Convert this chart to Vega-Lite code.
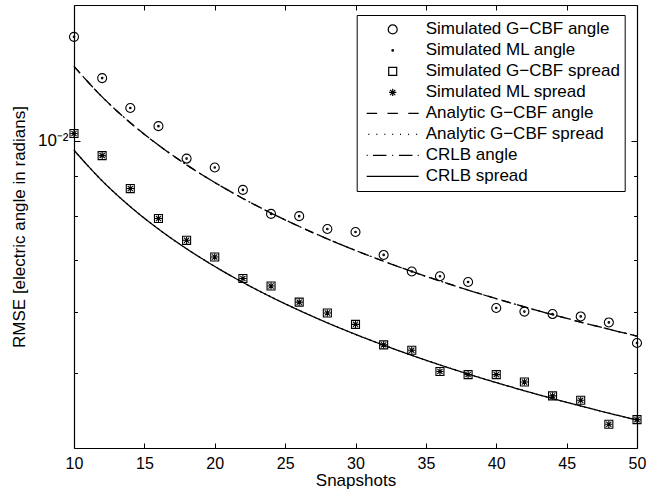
{
  "$schema": "https://vega.github.io/schema/vega-lite/v6.json",
  "width": 563,
  "height": 443,
  "autosize": "none",
  "padding": {"left": 74, "top": 5, "right": 9, "bottom": 50},
  "background": "white",
  "config": {
    "view": {"stroke": null},
    "font": "Liberation Sans",
    "axis": {
      "grid": false,
      "domainColor": "black",
      "domainWidth": 1.2,
      "tickColor": "black",
      "tickWidth": 1,
      "labelColor": "black",
      "labelFont": "Liberation Sans",
      "labelFontSize": 16,
      "labelFlush": false,
      "titleFont": "Liberation Sans",
      "titleFontSize": 17,
      "titleFontWeight": "normal",
      "titleColor": "black"
    }
  },
  "datasets": {
    "points": [
      {"n": 10, "series": "Simulated G−CBF angle", "rmse": 0.01364},
      {"n": 12, "series": "Simulated G−CBF angle", "rmse": 0.01206},
      {"n": 14, "series": "Simulated G−CBF angle", "rmse": 0.01103},
      {"n": 16, "series": "Simulated G−CBF angle", "rmse": 0.01045},
      {"n": 18, "series": "Simulated G−CBF angle", "rmse": 0.009486},
      {"n": 20, "series": "Simulated G−CBF angle", "rmse": 0.009236},
      {"n": 22, "series": "Simulated G−CBF angle", "rmse": 0.00864},
      {"n": 24, "series": "Simulated G−CBF angle", "rmse": 0.008043},
      {"n": 26, "series": "Simulated G−CBF angle", "rmse": 0.007989},
      {"n": 28, "series": "Simulated G−CBF angle", "rmse": 0.007689},
      {"n": 30, "series": "Simulated G−CBF angle", "rmse": 0.00762},
      {"n": 32, "series": "Simulated G−CBF angle", "rmse": 0.007116},
      {"n": 34, "series": "Simulated G−CBF angle", "rmse": 0.006772},
      {"n": 36, "series": "Simulated G−CBF angle", "rmse": 0.006677},
      {"n": 38, "series": "Simulated G−CBF angle", "rmse": 0.006564},
      {"n": 40, "series": "Simulated G−CBF angle", "rmse": 0.006074},
      {"n": 42, "series": "Simulated G−CBF angle", "rmse": 0.006009},
      {"n": 44, "series": "Simulated G−CBF angle", "rmse": 0.005965},
      {"n": 46, "series": "Simulated G−CBF angle", "rmse": 0.005923},
      {"n": 48, "series": "Simulated G−CBF angle", "rmse": 0.005818},
      {"n": 50, "series": "Simulated G−CBF angle", "rmse": 0.005471},
      {"n": 10, "series": "Simulated ML angle", "rmse": 0.01364},
      {"n": 12, "series": "Simulated ML angle", "rmse": 0.01206},
      {"n": 14, "series": "Simulated ML angle", "rmse": 0.01103},
      {"n": 16, "series": "Simulated ML angle", "rmse": 0.01045},
      {"n": 18, "series": "Simulated ML angle", "rmse": 0.009486},
      {"n": 20, "series": "Simulated ML angle", "rmse": 0.009236},
      {"n": 22, "series": "Simulated ML angle", "rmse": 0.00864},
      {"n": 24, "series": "Simulated ML angle", "rmse": 0.008043},
      {"n": 26, "series": "Simulated ML angle", "rmse": 0.007989},
      {"n": 28, "series": "Simulated ML angle", "rmse": 0.007689},
      {"n": 30, "series": "Simulated ML angle", "rmse": 0.00762},
      {"n": 32, "series": "Simulated ML angle", "rmse": 0.007116},
      {"n": 34, "series": "Simulated ML angle", "rmse": 0.006772},
      {"n": 36, "series": "Simulated ML angle", "rmse": 0.006677},
      {"n": 38, "series": "Simulated ML angle", "rmse": 0.006564},
      {"n": 40, "series": "Simulated ML angle", "rmse": 0.006074},
      {"n": 42, "series": "Simulated ML angle", "rmse": 0.006009},
      {"n": 44, "series": "Simulated ML angle", "rmse": 0.005965},
      {"n": 46, "series": "Simulated ML angle", "rmse": 0.005923},
      {"n": 48, "series": "Simulated ML angle", "rmse": 0.005818},
      {"n": 50, "series": "Simulated ML angle", "rmse": 0.005471},
      {"n": 10, "series": "Simulated G−CBF spread", "rmse": 0.010224},
      {"n": 12, "series": "Simulated G−CBF spread", "rmse": 0.009571},
      {"n": 14, "series": "Simulated G−CBF spread", "rmse": 0.008674},
      {"n": 16, "series": "Simulated G−CBF spread", "rmse": 0.007933},
      {"n": 18, "series": "Simulated G−CBF spread", "rmse": 0.007433},
      {"n": 20, "series": "Simulated G−CBF spread", "rmse": 0.007073},
      {"n": 22, "series": "Simulated G−CBF spread", "rmse": 0.006632},
      {"n": 24, "series": "Simulated G−CBF spread", "rmse": 0.006487},
      {"n": 26, "series": "Simulated G−CBF spread", "rmse": 0.006181},
      {"n": 28, "series": "Simulated G−CBF spread", "rmse": 0.005983},
      {"n": 30, "series": "Simulated G−CBF spread", "rmse": 0.005785},
      {"n": 32, "series": "Simulated G−CBF spread", "rmse": 0.005441},
      {"n": 34, "series": "Simulated G−CBF spread", "rmse": 0.005355},
      {"n": 36, "series": "Simulated G−CBF spread", "rmse": 0.005025},
      {"n": 38, "series": "Simulated G−CBF spread", "rmse": 0.004979},
      {"n": 40, "series": "Simulated G−CBF spread", "rmse": 0.004979},
      {"n": 42, "series": "Simulated G−CBF spread", "rmse": 0.004871},
      {"n": 44, "series": "Simulated G−CBF spread", "rmse": 0.004673},
      {"n": 46, "series": "Simulated G−CBF spread", "rmse": 0.004613},
      {"n": 48, "series": "Simulated G−CBF spread", "rmse": 0.004293},
      {"n": 50, "series": "Simulated G−CBF spread", "rmse": 0.004353},
      {"n": 10, "series": "Simulated ML spread", "rmse": 0.010224},
      {"n": 12, "series": "Simulated ML spread", "rmse": 0.009571},
      {"n": 14, "series": "Simulated ML spread", "rmse": 0.008674},
      {"n": 16, "series": "Simulated ML spread", "rmse": 0.007933},
      {"n": 18, "series": "Simulated ML spread", "rmse": 0.007433},
      {"n": 20, "series": "Simulated ML spread", "rmse": 0.007073},
      {"n": 22, "series": "Simulated ML spread", "rmse": 0.006632},
      {"n": 24, "series": "Simulated ML spread", "rmse": 0.006487},
      {"n": 26, "series": "Simulated ML spread", "rmse": 0.006181},
      {"n": 28, "series": "Simulated ML spread", "rmse": 0.005983},
      {"n": 30, "series": "Simulated ML spread", "rmse": 0.005785},
      {"n": 32, "series": "Simulated ML spread", "rmse": 0.005441},
      {"n": 34, "series": "Simulated ML spread", "rmse": 0.005355},
      {"n": 36, "series": "Simulated ML spread", "rmse": 0.005025},
      {"n": 38, "series": "Simulated ML spread", "rmse": 0.004979},
      {"n": 40, "series": "Simulated ML spread", "rmse": 0.004979},
      {"n": 42, "series": "Simulated ML spread", "rmse": 0.004871},
      {"n": 44, "series": "Simulated ML spread", "rmse": 0.004673},
      {"n": 46, "series": "Simulated ML spread", "rmse": 0.004613},
      {"n": 48, "series": "Simulated ML spread", "rmse": 0.004293},
      {"n": 50, "series": "Simulated ML spread", "rmse": 0.004353}
    ],
    "curves": [
      {"n": 10, "series": "Analytic G−CBF angle", "rmse": 0.012491},
      {"n": 12, "series": "Analytic G−CBF angle", "rmse": 0.011403},
      {"n": 14, "series": "Analytic G−CBF angle", "rmse": 0.010557},
      {"n": 16, "series": "Analytic G−CBF angle", "rmse": 0.009875},
      {"n": 18, "series": "Analytic G−CBF angle", "rmse": 0.00931},
      {"n": 20, "series": "Analytic G−CBF angle", "rmse": 0.008833},
      {"n": 22, "series": "Analytic G−CBF angle", "rmse": 0.008422},
      {"n": 24, "series": "Analytic G−CBF angle", "rmse": 0.008063},
      {"n": 26, "series": "Analytic G−CBF angle", "rmse": 0.007747},
      {"n": 28, "series": "Analytic G−CBF angle", "rmse": 0.007465},
      {"n": 30, "series": "Analytic G−CBF angle", "rmse": 0.007212},
      {"n": 32, "series": "Analytic G−CBF angle", "rmse": 0.006983},
      {"n": 34, "series": "Analytic G−CBF angle", "rmse": 0.006774},
      {"n": 36, "series": "Analytic G−CBF angle", "rmse": 0.006583},
      {"n": 38, "series": "Analytic G−CBF angle", "rmse": 0.006408},
      {"n": 40, "series": "Analytic G−CBF angle", "rmse": 0.006245},
      {"n": 42, "series": "Analytic G−CBF angle", "rmse": 0.006095},
      {"n": 44, "series": "Analytic G−CBF angle", "rmse": 0.005955},
      {"n": 46, "series": "Analytic G−CBF angle", "rmse": 0.005824},
      {"n": 48, "series": "Analytic G−CBF angle", "rmse": 0.005701},
      {"n": 50, "series": "Analytic G−CBF angle", "rmse": 0.005586},
      {"n": 10, "series": "CRLB angle", "rmse": 0.012491},
      {"n": 12, "series": "CRLB angle", "rmse": 0.011403},
      {"n": 14, "series": "CRLB angle", "rmse": 0.010557},
      {"n": 16, "series": "CRLB angle", "rmse": 0.009875},
      {"n": 18, "series": "CRLB angle", "rmse": 0.00931},
      {"n": 20, "series": "CRLB angle", "rmse": 0.008833},
      {"n": 22, "series": "CRLB angle", "rmse": 0.008422},
      {"n": 24, "series": "CRLB angle", "rmse": 0.008063},
      {"n": 26, "series": "CRLB angle", "rmse": 0.007747},
      {"n": 28, "series": "CRLB angle", "rmse": 0.007465},
      {"n": 30, "series": "CRLB angle", "rmse": 0.007212},
      {"n": 32, "series": "CRLB angle", "rmse": 0.006983},
      {"n": 34, "series": "CRLB angle", "rmse": 0.006774},
      {"n": 36, "series": "CRLB angle", "rmse": 0.006583},
      {"n": 38, "series": "CRLB angle", "rmse": 0.006408},
      {"n": 40, "series": "CRLB angle", "rmse": 0.006245},
      {"n": 42, "series": "CRLB angle", "rmse": 0.006095},
      {"n": 44, "series": "CRLB angle", "rmse": 0.005955},
      {"n": 46, "series": "CRLB angle", "rmse": 0.005824},
      {"n": 48, "series": "CRLB angle", "rmse": 0.005701},
      {"n": 50, "series": "CRLB angle", "rmse": 0.005586},
      {"n": 10, "series": "Analytic G−CBF spread", "rmse": 0.009724},
      {"n": 12, "series": "Analytic G−CBF spread", "rmse": 0.008877},
      {"n": 14, "series": "Analytic G−CBF spread", "rmse": 0.008218},
      {"n": 16, "series": "Analytic G−CBF spread", "rmse": 0.007688},
      {"n": 18, "series": "Analytic G−CBF spread", "rmse": 0.007248},
      {"n": 20, "series": "Analytic G−CBF spread", "rmse": 0.006876},
      {"n": 22, "series": "Analytic G−CBF spread", "rmse": 0.006556},
      {"n": 24, "series": "Analytic G−CBF spread", "rmse": 0.006277},
      {"n": 26, "series": "Analytic G−CBF spread", "rmse": 0.006031},
      {"n": 28, "series": "Analytic G−CBF spread", "rmse": 0.005811},
      {"n": 30, "series": "Analytic G−CBF spread", "rmse": 0.005614},
      {"n": 32, "series": "Analytic G−CBF spread", "rmse": 0.005436},
      {"n": 34, "series": "Analytic G−CBF spread", "rmse": 0.005274},
      {"n": 36, "series": "Analytic G−CBF spread", "rmse": 0.005125},
      {"n": 38, "series": "Analytic G−CBF spread", "rmse": 0.004988},
      {"n": 40, "series": "Analytic G−CBF spread", "rmse": 0.004862},
      {"n": 42, "series": "Analytic G−CBF spread", "rmse": 0.004745},
      {"n": 44, "series": "Analytic G−CBF spread", "rmse": 0.004636},
      {"n": 46, "series": "Analytic G−CBF spread", "rmse": 0.004534},
      {"n": 48, "series": "Analytic G−CBF spread", "rmse": 0.004438},
      {"n": 50, "series": "Analytic G−CBF spread", "rmse": 0.004349},
      {"n": 10, "series": "CRLB spread", "rmse": 0.009724},
      {"n": 12, "series": "CRLB spread", "rmse": 0.008877},
      {"n": 14, "series": "CRLB spread", "rmse": 0.008218},
      {"n": 16, "series": "CRLB spread", "rmse": 0.007688},
      {"n": 18, "series": "CRLB spread", "rmse": 0.007248},
      {"n": 20, "series": "CRLB spread", "rmse": 0.006876},
      {"n": 22, "series": "CRLB spread", "rmse": 0.006556},
      {"n": 24, "series": "CRLB spread", "rmse": 0.006277},
      {"n": 26, "series": "CRLB spread", "rmse": 0.006031},
      {"n": 28, "series": "CRLB spread", "rmse": 0.005811},
      {"n": 30, "series": "CRLB spread", "rmse": 0.005614},
      {"n": 32, "series": "CRLB spread", "rmse": 0.005436},
      {"n": 34, "series": "CRLB spread", "rmse": 0.005274},
      {"n": 36, "series": "CRLB spread", "rmse": 0.005125},
      {"n": 38, "series": "CRLB spread", "rmse": 0.004988},
      {"n": 40, "series": "CRLB spread", "rmse": 0.004862},
      {"n": 42, "series": "CRLB spread", "rmse": 0.004745},
      {"n": 44, "series": "CRLB spread", "rmse": 0.004636},
      {"n": 46, "series": "CRLB spread", "rmse": 0.004534},
      {"n": 48, "series": "CRLB spread", "rmse": 0.004438},
      {"n": 50, "series": "CRLB spread", "rmse": 0.004349}
    ]
  },
  "layer": [
    {
      "data": {"name": "curves"},
      "mark": {"type": "line", "color": "black", "strokeWidth": 1.3, "interpolate": "monotone"},
      "encoding": {
        "x": {
          "field": "n", "type": "quantitative",
          "scale": {"domain": [10, 50], "nice": false, "zero": false},
          "axis": {
            "orient": "bottom",
            "values": [10, 15, 20, 25, 30, 35, 40, 45, 50],
            "tickSize": -5,
            "labelPadding": 12.5,
            "title": "Snapshots",
            "titlePadding": 1
          }
        },
        "y": {
          "field": "rmse", "type": "quantitative",
          "scale": {"type": "log", "domain": [0.004, 0.015], "nice": false},
          "axis": {
            "orient": "left",
            "values": [0.005, 0.006, 0.007, 0.008, 0.009, 0.01],
            "tickSize": {"condition": {"test": "abs(datum.value - 0.01) < 0.000001", "value": -6}, "value": -3.5},
            "labelPadding": 12,
            "labelFontSize": 17,
            "labelExpr": "abs(datum.value - 0.01) < 0.000001 ? '10⁻²' : ''",
            "title": "RMSE [electric angle in radians]",
            "titlePadding": 9
          }
        },
        "strokeDash": {
          "field": "series", "type": "nominal",
          "scale": {
            "domain": ["Analytic G−CBF angle", "Analytic G−CBF spread", "CRLB angle", "CRLB spread"],
            "range": [[9, 6], [1.5, 3.5], [9, 4, 2, 4], [1, 0]]
          },
          "legend": null
        }
      }
    },
    {
      "data": {"name": "points"},
      "mark": {"type": "point", "filled": false, "color": "black", "strokeWidth": 1.1, "size": 2704, "opacity": 1},
      "encoding": {
        "x": {
          "field": "n", "type": "quantitative",
          "axis": {
            "orient": "top",
            "values": [10, 15, 20, 25, 30, 35, 40, 45, 50],
            "tickSize": -5,
            "labels": false,
            "title": null
          }
        },
        "y": {
          "field": "rmse", "type": "quantitative",
          "axis": {
            "orient": "right",
            "values": [0.005, 0.006, 0.007, 0.008, 0.009, 0.01],
            "tickSize": {"condition": {"test": "abs(datum.value - 0.01) < 0.000001", "value": -6}, "value": -3.5},
            "labels": false,
            "title": null
          }
        },
        "shape": {
          "field": "series", "type": "nominal",
          "scale": {
            "domain": ["Simulated G−CBF angle", "Simulated ML angle", "Simulated G−CBF spread", "Simulated ML spread", "Analytic G−CBF angle", "Analytic G−CBF spread", "CRLB angle", "CRLB spread"],
            "range": [
              "M-0.173,0A0.173,0.173,0,1,0,0.173,0A0.173,0.173,0,1,0,-0.173,0Z",
              "M-0.03,0A0.03,0.03,0,1,0,0.03,0A0.03,0.03,0,1,0,-0.03,0Z",
              "M-0.154,-0.154H0.154V0.154H-0.154Z",
              "M-0.14,0H0.14M0,-0.14V0.14M-0.1,-0.1L0.1,0.1M-0.1,0.1L0.1,-0.1",
              "M-1,0H-0.6M-0.2,0H0.2M0.6,0H1",
              "M-0.94,0H-0.9M-0.63,0H-0.59M-0.32,0H-0.28M-0.02,0H0.02M0.28,0H0.32M0.59,0H0.63M0.9,0H0.94",
              "M-1,0H-0.96M-0.76,0H-0.24M-0.02,0H0.02M0.24,0H0.76M0.96,0H1",
              "M-1,0H1"
            ]
          },
          "legend": {
            "title": null,
            "orient": "none",
            "direction": "vertical",
            "columns": 1,
            "columnPadding": 0,
            "legendX": 282.7,
            "legendY": 10,
            "padding": 4,
            "strokeColor": "black",
            "fillColor": "white",
            "symbolSize": 2704,
            "symbolStrokeWidth": 1.2,
            "symbolStrokeColor": "black",
            "symbolFillColor": "transparent",
            "symbolOffset": 5,
            "labelOffset": 6,
            "labelFont": "Liberation Sans",
            "labelFontSize": 17,
            "labelColor": "black",
            "labelLimit": 300,
            "clipHeight": 20.9,
            "rowPadding": 0
          }
        }
      }
    }
  ],
  "resolve": {"axis": {"x": "independent", "y": "independent"}}
}
